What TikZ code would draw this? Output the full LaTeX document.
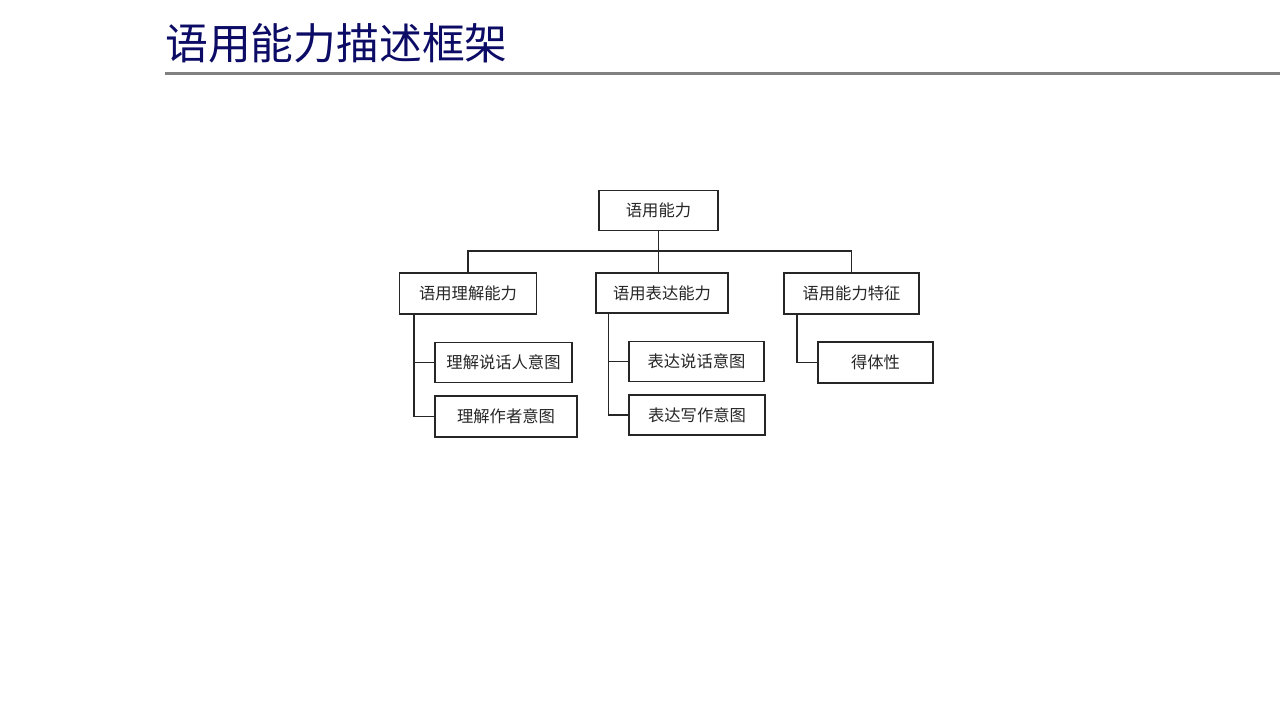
\documentclass[tikz,border=0pt]{standalone}
\usepackage{fontspec}
\newfontfamily\cjk{Noto Sans CJK SC}
\usepackage{tikz}
\definecolor{titleblue}{RGB}{12,12,102}
\definecolor{rulegrey}{RGB}{128,128,128}
\tikzset{
	box/.style={draw=black!85, line width=1.3pt, fill=white, inner sep=0pt, font=\cjk\fontsize{16.3}{18}\selectfont, text=black!85},
	link/.style={draw=black!85, line width=1.3pt}
}

\begin{document}
\begin{tikzpicture}[x=1pt, y=-1pt]
			%%%%% START %%%%%
			\useasboundingbox[fill=white] (0, 0) rectangle (1280, 720);
			
			\node[anchor=west, inner sep=0pt, text=titleblue, font=\cjk\fontsize{42.8}{44}\selectfont] (title) at (165, 43) {语用能力描述框架};
			\draw[line width=3pt, color=rulegrey] (165, 73) -- (1280, 73);
			
			\node[box, minimum width=119, minimum height=40] (root) at (658.5, 210.5) {语用能力};
			
			\node[box, minimum width=137, minimum height=41] (under) at (468, 293.5) {语用理解能力};
			\node[box, minimum width=132, minimum height=40] (express) at (662, 293) {语用表达能力};
			\node[box, minimum width=135, minimum height=41] (feature) at (851.5, 293.5) {语用能力特征};
			
			\node[box, minimum width=137, minimum height=40] (speaker) at (503.5, 362.5) {理解说话人意图};
			\node[box, minimum width=142, minimum height=41] (writer) at (506, 416.5) {理解作者意图};
			\node[box, minimum width=135, minimum height=40] (speak) at (696.5, 361.5) {表达说话意图};
			\node[box, minimum width=136, minimum height=40] (write) at (697, 415) {表达写作意图};
			\node[box, minimum width=115, minimum height=41] (fit) at (875.5, 362.5) {得体性};
			
			\coordinate (bus) at (0, 251);
			\draw[link] (root.south) -- (root.south |- express.north);
			\draw[link] (under.north) -- (under.north |- bus) -- (feature.north |- bus) -- (feature.north);
			
			\coordinate (t1) at ([xshift=15]under.south west);
			\draw[link] (t1) |- (writer.west);
			\draw[link] (t1 |- speaker.west) -- (speaker.west);
			
			\coordinate (t2) at ([xshift=13]express.south west);
			\draw[link] (t2) |- (write.west);
			\draw[link] (t2 |- speak.west) -- (speak.west);
			
			\coordinate (t3) at ([xshift=13.5]feature.south west);
			\draw[link] (t3) |- (fit.west);
			
			%%%%% END %%%%%
\end{tikzpicture}
\end{document}
